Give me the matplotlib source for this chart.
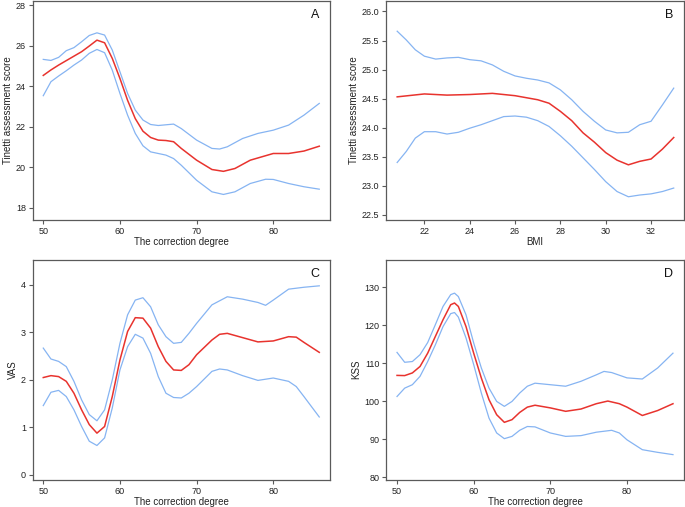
import matplotlib
matplotlib.use("Agg")
import matplotlib.pyplot as plt

plt.rcParams['font.family'] = ['Liberation Sans', 'DejaVu Sans']

# ---- Panel A: Tinetti vs correction degree ----
a_x = [50, 51, 52, 53, 54, 55, 56, 57, 58, 59, 60, 61, 62, 63, 64, 65, 66, 67, 68, 70, 72, 73.5, 75, 77, 80, 82, 84, 86]
a_fit = [24.53, 24.8, 25.04, 25.26, 25.48, 25.7, 25.98, 26.27, 26.14, 25.37, 24.38, 23.3, 22.4, 21.78, 21.47, 21.34, 21.32, 21.26, 20.93, 20.35, 19.89, 19.8, 19.94, 20.35, 20.68, 20.68, 20.8, 21.04]
a_up_x = [50, 51, 52, 53, 54, 55, 56, 57, 58, 59, 60, 61, 62, 63, 64, 65, 67, 68, 70, 72, 73, 74, 76, 78, 80, 82, 84, 86]
a_up = [25.32, 25.27, 25.42, 25.75, 25.9, 26.19, 26.5, 26.63, 26.52, 25.78, 24.71, 23.64, 22.82, 22.33, 22.11, 22.06, 22.13, 21.91, 21.34, 20.93, 20.9, 21.01, 21.42, 21.67, 21.83, 22.08, 22.57, 23.15]
a_lo_x = [50, 51, 52, 53, 54, 55, 56, 57, 58, 59, 60, 61, 62, 63, 64, 66, 67, 68, 70, 72, 73.5, 75, 77, 79, 80, 82, 84, 86]
a_lo = [23.53, 24.22, 24.5, 24.76, 25.04, 25.29, 25.62, 25.81, 25.65, 24.79, 23.64, 22.57, 21.67, 21.06, 20.76, 20.6, 20.43, 20.1, 19.36, 18.79, 18.66, 18.79, 19.2, 19.41, 19.4, 19.2, 19.04, 18.92]

# ---- Panel B: Tinetti vs BMI ----
b_x = [20.8, 22, 23, 24, 25, 26, 27, 27.5, 28, 28.5, 29, 29.5, 30, 30.5, 31, 31.5, 32, 32.5, 33]
b_fit = [24.53, 24.58, 24.56, 24.57, 24.59, 24.55, 24.48, 24.42, 24.28, 24.12, 23.91, 23.75, 23.57, 23.44, 23.36, 23.42, 23.46, 23.63, 23.83]
b_ci_x = [20.8, 21.2, 21.6, 22, 22.5, 23, 23.5, 24, 24.5, 25, 25.5, 26, 26.5, 27, 27.5, 28, 28.5, 29, 29.5, 30, 30.5, 31, 31.5, 32, 32.5, 33]
b_up = [25.66, 25.51, 25.34, 25.23, 25.18, 25.2, 25.21, 25.17, 25.15, 25.08, 24.97, 24.89, 24.85, 24.82, 24.77, 24.65, 24.48, 24.28, 24.11, 23.96, 23.91, 23.92, 24.05, 24.11, 24.39, 24.68]
b_lo = [23.4, 23.59, 23.82, 23.93, 23.93, 23.89, 23.92, 23.99, 24.05, 24.12, 24.19, 24.2, 24.18, 24.12, 24.02, 23.86, 23.68, 23.48, 23.28, 23.07, 22.9, 22.81, 22.84, 22.86, 22.9, 22.96]

# ---- Panel C: VAS vs correction degree ----
c_x = [50, 51, 52, 53, 54, 55, 56, 57, 58, 59, 60, 61, 62, 63, 64, 65, 66, 67, 68, 69, 70, 72, 73, 74, 76, 78, 80, 82, 83, 84, 86]
c_fit = [2.05, 2.09, 2.07, 1.97, 1.72, 1.37, 1.06, 0.88, 1.02, 1.65, 2.42, 3.02, 3.31, 3.3, 3.09, 2.7, 2.39, 2.21, 2.2, 2.32, 2.53, 2.84, 2.96, 2.98, 2.89, 2.8, 2.82, 2.91, 2.9, 2.79, 2.58]
c_up_x = [50, 51, 52, 53, 54, 55, 56, 57, 58, 59, 60, 61, 62, 63, 64, 65, 66, 67, 68, 69, 70, 72, 74, 76, 78, 79, 80, 82, 84, 86]
c_up = [2.67, 2.44, 2.39, 2.28, 1.97, 1.58, 1.27, 1.14, 1.37, 2.0, 2.77, 3.37, 3.68, 3.73, 3.54, 3.16, 2.91, 2.77, 2.79, 2.98, 3.19, 3.58, 3.75, 3.7, 3.63, 3.57, 3.68, 3.91, 3.95, 3.98]
c_lo = [1.46, 1.74, 1.78, 1.65, 1.37, 1.02, 0.71, 0.62, 0.78, 1.41, 2.21, 2.7, 2.96, 2.88, 2.56, 2.07, 1.72, 1.63, 1.62, 1.72, 1.86, 2.18, 2.23, 2.21, 2.09, 1.99, 2.04, 1.97, 1.86, 1.65, 1.22]

# ---- Panel D: KSS vs correction degree ----
d_x = [50, 51, 52, 53, 54, 55, 56, 57, 57.5, 58, 59, 60, 61, 62, 63, 64, 65, 66, 67, 68, 70, 72, 74, 76, 77.5, 79, 80, 82, 84, 86]
d_fit = [106.75, 106.7, 107.4, 109.1, 112.6, 117.0, 121.4, 125.35, 125.8, 124.9, 119.6, 112.6, 106.05, 100.35, 96.4, 94.4, 95.1, 97.0, 98.4, 98.9, 98.2, 97.3, 97.9, 99.3, 100.0, 99.3, 98.4, 96.2, 97.5, 99.3]
d_up_x = [50, 51, 52, 53, 54, 55, 56, 57, 57.5, 58, 59, 60, 61, 62, 63, 64, 65, 66, 67, 68, 70, 72, 74, 76, 77, 78, 80, 82, 84, 86]
d_up = [112.8, 110.2, 110.4, 112.2, 115.4, 120.1, 124.9, 128.0, 128.4, 127.5, 122.7, 115.3, 108.7, 103.4, 99.9, 98.6, 99.9, 102.1, 103.9, 104.7, 104.3, 103.9, 105.2, 106.9, 107.8, 107.5, 106.1, 105.8, 108.7, 112.6]
d_lo_x = [50, 51, 52, 53, 54, 55, 56, 57, 57.5, 58, 59, 60, 61, 62, 63, 64, 65, 66, 67, 68, 70, 72, 74, 76, 78, 79, 80, 82, 84, 86]
d_lo = [101.2, 103.4, 104.3, 106.5, 110.4, 114.8, 119.6, 123.0, 123.3, 122.1, 116.6, 109.6, 102.1, 95.5, 91.6, 90.1, 90.7, 92.3, 93.3, 93.2, 91.6, 90.7, 90.9, 91.8, 92.3, 91.6, 89.8, 87.2, 86.5, 85.9]

RED = '#e8332e'
BLUE = '#86b4f2'
SPINE = '#5a5a5a'

fig = plt.figure(figsize=(6.85, 5.07), dpi=100)

def make_ax(rect, xlim, ylim, xticks, yticks, ytlabels, xlabel, ylabel, letter):
    ax = fig.add_axes(rect)
    ax.set_xlim(*xlim)
    ax.set_ylim(*ylim)
    ax.set_xticks(xticks)
    ax.set_yticks(yticks)
    ax.set_yticklabels(ytlabels)
    for s in ax.spines.values():
        s.set_color(SPINE)
        s.set_linewidth(0.9)
    ax.tick_params(axis='both', labelsize=6.5, length=3, width=0.8, color=SPINE,
                   labelcolor='#222222', pad=2)
    ax.set_xlabel(xlabel, fontsize=7, color='#222222', labelpad=1)
    ax.set_ylabel(ylabel, fontsize=7, color='#222222', labelpad=2)
    ax.text(0.965, 0.935, letter, transform=ax.transAxes, ha='right', va='center',
            fontsize=9, color='#111111')
    return ax

L1, W1 = 33/685, 297/685
L2, W2 = 386.3/685, 297.4/685
HT = 219/507
B_top = (507-220)/507
B_bot = (507-479.7)/507

axA = make_ax([L1, B_top, W1, HT], (48.66, 87.4), (17.4, 28.2), [50, 60, 70, 80],
              [18, 20, 22, 24, 26, 28], ['18', '20', '22', '24', '26', '28'],
              'The correction degree', 'Tinetti assessment score', 'A')
axA.plot(a_up_x, a_up, color=BLUE, lw=0.9)
axA.plot(a_lo_x, a_lo, color=BLUE, lw=0.9)
axA.plot(a_x, a_fit, color=RED, lw=1.1)

bt = [22.5, 23.0, 23.5, 24.0, 24.5, 25.0, 25.5, 26.0]
axB = make_ax([L2, B_top, W2, HT], (20.32, 33.44), (22.41, 26.18), [22, 24, 26, 28, 30, 32],
              bt, ['%.1f' % v for v in bt], 'BMI', 'Tinetti assessment score', 'B')
axB.plot(b_ci_x, b_up, color=BLUE, lw=0.9)
axB.plot(b_ci_x, b_lo, color=BLUE, lw=0.9)
axB.plot(b_x, b_fit, color=RED, lw=1.1)

axC = make_ax([L1, B_bot, W1, HT + 1/507], (48.66, 87.4), (-0.1, 4.53), [50, 60, 70, 80],
              [0, 1, 2, 3, 4], ['0', '1', '2', '3', '4'],
              'The correction degree', 'VAS', 'C')
axC.plot(c_up_x, c_up, color=BLUE, lw=0.9)
axC.plot(c_x, c_lo, color=BLUE, lw=0.9)
axC.plot(c_x, c_fit, color=RED, lw=1.1)

dt = [80, 90, 100, 110, 120, 130]
axD = make_ax([L2, B_bot, W2, HT + 1/507], (48.6, 87.4), (79.3, 137.2), [50, 60, 70, 80],
              dt, [str(v) for v in dt], 'The correction degree', 'KSS', 'D')
axD.plot(d_up_x, d_up, color=BLUE, lw=0.9)
axD.plot(d_lo_x, d_lo, color=BLUE, lw=0.9)
axD.plot(d_x, d_fit, color=RED, lw=1.1)

fig.savefig('out.png', dpi=100)
